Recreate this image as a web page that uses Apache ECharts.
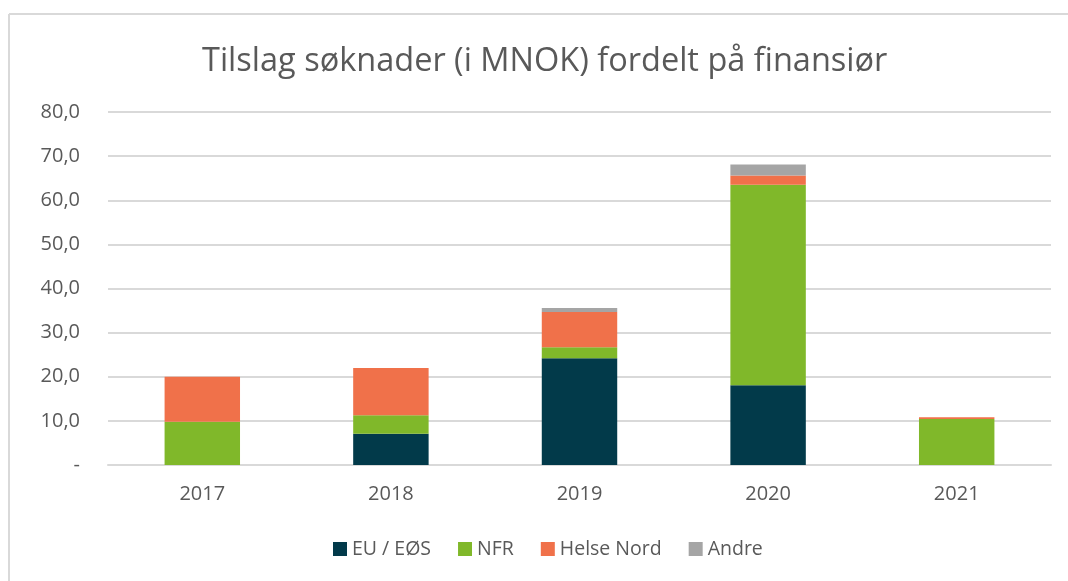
<!DOCTYPE html>
<html><head><meta charset="utf-8">
<script src="https://cdn.jsdelivr.net/npm/echarts@6/dist/echarts.min.js"></script>
<style>html,body{margin:0;padding:0;background:#fff}#c{width:1068px;height:581px}</style>
</head><body><div id="c"></div>
<script>
const categories = ['2017', '2018', '2019', '2020', '2021'];
const euEos = [0, 7.1, 24.2, 18.1, 0];
const nfr = [9.8, 4.2, 2.5, 45.4, 10.4];
const helseNord = [10.2, 10.7, 8.0, 2.1, 0.4];
const andre = [0, 0, 0.9, 2.5, 0];
const yTicks = [0, 10, 20, 30, 40, 50, 60, 70, 80];

const font = '"Open Sans", sans-serif';
const chart = echarts.init(document.getElementById('c'));
const mk = (name, data, color) => ({
  name, type: 'bar', stack: 's', data, barCategoryGap: '60%',
  itemStyle: { color }, emphasis: { disabled: true }
});
chart.setOption({
  animation: false,
  title: {
    text: 'Tilslag søknader (i MNOK) fordelt på finansiør',
    left: 197, top: 40,
    textStyle: { fontFamily: font, fontSize: 32.5, fontWeight: 'normal', color: '#595959' }
  },
  graphic: [
    { type: 'line', shape: { x1: 9, y1: 14, x2: 1068, y2: 14 }, style: { stroke: '#d9d9d9', lineWidth: 2 } },
    { type: 'line', shape: { x1: 9, y1: 14, x2: 9, y2: 581 }, style: { stroke: '#d9d9d9', lineWidth: 2 } }
  ],
  legend: {
    bottom: 17, left: 328, itemWidth: 14, itemHeight: 14, itemGap: 27, itemStyle: {},
    icon: 'rect',
    textStyle: { fontFamily: font, fontSize: 19.5, color: '#595959' },
    data: ['EU / EØS', 'NFR', 'Helse Nord', 'Andre']
  },
  grid: { left: 108, right: 17, top: 112, bottom: 116 },
  xAxis: {
    type: 'category', data: categories,
    axisLine: { lineStyle: { color: '#d9d9d9', width: 2 } },
    axisTick: { show: false },
    axisLabel: { fontFamily: font, fontSize: 20, color: '#595959', margin: 19 }
  },
  yAxis: {
    type: 'value', min: yTicks[0], max: yTicks[yTicks.length - 1], interval: 10,
    axisLine: { show: false }, axisTick: { show: false },
    splitLine: { lineStyle: { color: '#d9d9d9', width: 2 } },
    axisLabel: {
      fontFamily: font, fontSize: 20, color: '#595959', margin: 28,
      formatter: v => v === 0 ? '-' : v.toFixed(1).replace('.', ',')
    }
  },
  series: [
    mk('EU / EØS', euEos, '#023a4a'),
    mk('NFR', nfr, '#80b82a'),
    mk('Helse Nord', helseNord, '#f0714a'),
    mk('Andre', andre, '#a5a5a5')
  ]
});
</script></body></html>
